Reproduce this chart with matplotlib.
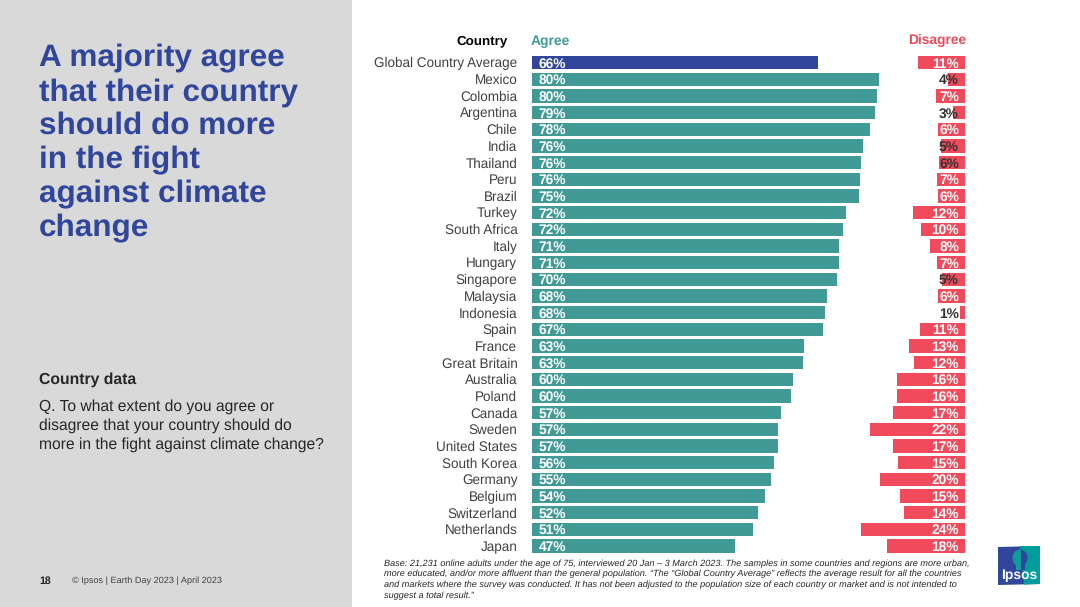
import matplotlib
matplotlib.use("Agg")
import matplotlib.pyplot as plt
from matplotlib.patches import Rectangle, Polygon, Ellipse

plt.rcParams['font.family'] = ['Liberation Sans', 'DejaVu Sans']
plt.rcParams['text.hinting'] = 'no_hinting'

countries = ["Global Country Average", "Mexico", "Colombia", "Argentina", "Chile", "India", "Thailand", "Peru",
             "Brazil", "Turkey", "South Africa", "Italy", "Hungary", "Singapore", "Malaysia", "Indonesia", "Spain",
             "France", "Great Britain", "Australia", "Poland", "Canada", "Sweden", "United States", "South Korea",
             "Germany", "Belgium", "Switzerland", "Netherlands", "Japan"]
agree = [66.0, 80.2, 79.6, 79.1, 78.0, 76.4, 76.0, 75.8, 75.5, 72.5, 71.8, 70.9, 70.9, 70.4, 68.1, 67.6, 67.2,
         62.8, 62.6, 60.2, 59.9, 57.5, 56.8, 56.8, 56.0, 55.3, 53.8, 52.2, 51.0, 46.8]
agree_labels = [66, 80, 80, 79, 78, 76, 76, 76, 75, 72, 72, 71, 71, 70, 68, 68, 67, 63, 63, 60, 60, 57, 57, 57,
                56, 55, 54, 52, 51, 47]
disagree = [10.9, 4.0, 6.8, 2.8, 6.3, 5.6, 6.0, 6.5, 6.2, 11.9, 10.2, 8.1, 6.5, 5.3, 6.2, 1.1, 10.5, 13.0, 11.8,
            15.6, 15.8, 16.7, 22.0, 16.7, 15.5, 19.7, 14.9, 14.0, 24.0, 17.9]
disagree_labels = [11, 4, 7, 3, 6, 5, 6, 7, 6, 12, 10, 8, 7, 5, 6, 1, 11, 13, 12, 16, 16, 17, 22, 17, 15, 20, 15,
                   14, 24, 18]
dark_label_countries = ["Mexico", "Argentina", "India", "Thailand", "Singapore", "Indonesia"]

W, H = 1080, 607
BLUE = "#2f469c"
TEAL = "#429a97"
RED = "#f14a5c"
TEXT = "#404040"
SCALE = 4.33

fig = plt.figure(figsize=(W / 100, H / 100), dpi=100, facecolor="white")
bg = fig.add_axes([0, 0, 1, 1])
bg.set_xlim(0, W)
bg.set_ylim(H, 0)
bg.axis("off")
bg.add_patch(Rectangle((0, 0), 352, H, color="#d9d9d9", lw=0))

title_lines = ["A majority agree", "that their country", "should do more", "in the fight", "against climate", "change"]
title_y = [58.5, 92.5, 125.5, 160.5, 194.5, 228.5]
for y, line in zip(title_y, title_lines):
    bg.text(39, y, line, fontsize=22.65, fontweight="bold", color=BLUE, va="center", ha="left")
bg.text(39, 379.5, "Country data", fontsize=11.3, fontweight="bold", color="#262626", va="center")
for i, line in enumerate(["Q. To what extent do you agree or", "disagree that your country should do",
                          "more in the fight against climate change?"]):
    bg.text(39, 406.5 + i * 19, line, fontsize=11.27, color="#262626", va="center")
bg.text(39, 581, "18", fontsize=7.6, fontweight="bold", color="#262626", va="center")
bg.text(72, 581, "© Ipsos | Earth Day 2023 | April 2023", fontsize=6.55, color="#404040", va="center")

bg.text(482, 40.5, "Country", fontsize=9.6, fontweight="bold", color="black", ha="center", va="center")
bg.text(550, 41.5, "Agree", fontsize=10, fontweight="bold", color=TEAL, ha="center", va="center")
bg.text(937.5, 40, "Disagree", fontsize=9.9, fontweight="bold", color=RED, ha="center", va="center")

for i, line in enumerate(["Base: 21,231 online adults under the age of 75, interviewed 20 Jan – 3 March 2023. The samples in some countries and regions are more urban,",
                          "more educated, and/or more affluent than the general population. “The “Global Country Average” reflects the average result for all the countries",
                          "and markets where the survey was conducted. It has not been adjusted to the population size of each country or market and is not intended to",
                          "suggest a total result.”"]):
    bg.text(384, 563.5 + i * 10.8, line, fontsize=6.55, fontstyle="italic", color="#262626", va="center")

# Ipsos logo
bg.add_patch(Polygon([(998, 547), (1040, 546), (1040, 584), (998, 585)], closed=True, color="#2f469c", lw=0))
bg.add_patch(Polygon([(1020, 546), (1040, 546), (1040, 584), (1024, 584.5)], closed=True, color="#009d9c", lw=0))
head_left = Ellipse((1020, 558), 15, 17, color="#0f9c9c", lw=0)
bg.add_patch(head_left)
head_left.set_clip_path(Rectangle((1000, 546), 21, 30, transform=bg.transData))
head_right = Ellipse((1020, 558), 15, 17, color="#2f469c", lw=0)
bg.add_patch(head_right)
head_right.set_clip_path(Rectangle((1021, 546), 19, 30, transform=bg.transData))
bg.add_patch(Rectangle((1016, 564), 5, 6, color="#0f9c9c", lw=0))
bg.add_patch(Rectangle((1021, 564), 4, 6, color="#2f469c", lw=0))
bg.text(1019, 575, "Ipsos", fontsize=10, fontweight="bold", color="white", ha="center", va="center")

TOP, ROW = 54.17, 16.667
BOTTOM = TOP + ROW * len(countries)
positions = list(range(len(countries)))


def make_axes(x0, x1):
    ax = fig.add_axes([x0 / W, 1 - BOTTOM / H, (x1 - x0) / W, (BOTTOM - TOP) / H])
    ax.patch.set_alpha(0)
    ax.set_ylim(len(countries) - 0.5, -0.5)
    for s in ax.spines.values():
        s.set_visible(False)
    ax.set_xticks([])
    return ax


ax1 = make_axes(532, 882)
ax1.set_xlim(0, 350 / SCALE)
colors = [BLUE] + [TEAL] * (len(countries) - 1)
ax1.barh(positions, agree, height=0.8, color=colors, lw=0)
ax1.set_yticks(positions, countries, fontsize=9.75, color=TEXT)
ax1.tick_params(axis="y", length=0, pad=10.5)
for y, lab in zip(positions, agree_labels):
    ax1.text(1.5, y + 0.08, f"{lab}%", color="white", fontsize=9.9, fontweight="bold", va="center", ha="left")

ax2 = make_axes(855, 965)
ax2.set_xlim(110 / SCALE, 0)
ax2.barh(positions, disagree, height=0.8, color=RED, lw=0)
ax2.set_yticks([])
for y, name, lab in zip(positions, countries, disagree_labels):
    c = "#333333" if name in dark_label_countries else "white"
    ax2.text(1.4, y + 0.08, f"{lab}%", color=c, fontsize=9.9, fontweight="bold", va="center", ha="right")

fig.savefig("out.png", dpi=100, facecolor="white")
